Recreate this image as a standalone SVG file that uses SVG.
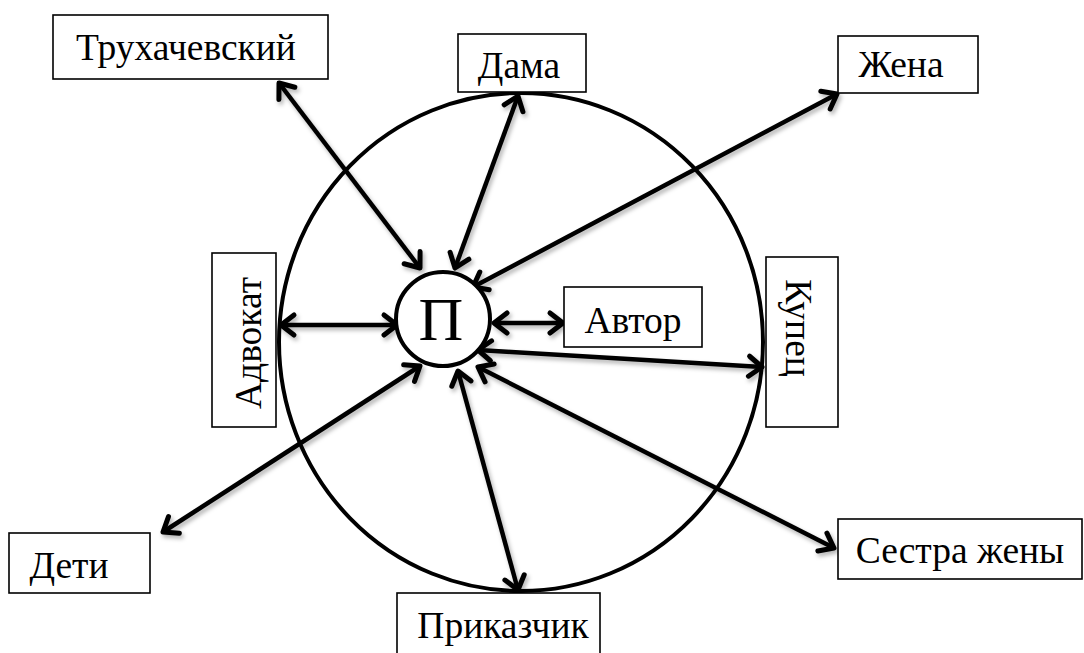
<svg xmlns="http://www.w3.org/2000/svg" width="1084" height="653" viewBox="0 0 1084 653">
<defs>
<style>
.box{fill:#fff;stroke:#000;stroke-width:1.6}
.t{font-family:"Liberation Serif","Times New Roman",serif;font-size:37.5px;fill:#000}
.c{stroke:#000;stroke-width:4.5;fill:none;marker-start:url(#ah);marker-end:url(#ah)}
</style>
<filter id="sh" x="-10%" y="-10%" width="120%" height="120%">
<feDropShadow dx="2" dy="3" stdDeviation="2" flood-color="#000" flood-opacity="0.3"/>
</filter>
<marker id="ah" markerUnits="userSpaceOnUse" viewBox="-18 -14 22 28" markerWidth="22" markerHeight="28" refX="0" refY="0" orient="auto-start-reverse" overflow="visible">
<path d="M -13 -10 L 0 0 L -13 10" fill="none" stroke="#000" stroke-width="5" stroke-linecap="round" stroke-linejoin="round"/>
</marker>
</defs>
<rect width="1084" height="653" fill="#fff"/>
<ellipse id="big" cx="521" cy="342" rx="242" ry="249" fill="none" stroke="#000" stroke-width="4"/>
<g id="connectors" filter="url(#sh)">
<line class="c" x1="420" y1="268" x2="279" y2="83"/>
<line class="c" x1="455" y1="268" x2="518" y2="96"/>
<line class="c" x1="473" y1="287" x2="837" y2="94"/>
<line class="c" x1="397" y1="325" x2="281" y2="325"/>
<line class="c" x1="494" y1="323" x2="563" y2="323"/>
<line class="c" x1="478" y1="350" x2="762" y2="367"/>
<line class="c" x1="420" y1="366" x2="163" y2="532"/>
<line class="c" x1="458" y1="371" x2="518" y2="590"/>
<line class="c" x1="478" y1="367" x2="834" y2="548"/>
</g>
<g id="node-P">
<circle cx="443" cy="319" r="47" fill="#fff" stroke="#000" stroke-width="4"/>
<text class="t" x="441" y="340" text-anchor="middle" style="font-size:62px">П</text>
</g>
<g id="node-truh">
<rect class="box" x="53" y="15" width="275" height="64"/>
<text class="t" x="186" y="60" text-anchor="middle">Трухачевский</text>
</g>
<g id="node-dama">
<rect class="box" x="458" y="34" width="128" height="58"/>
<text class="t" x="519" y="78" text-anchor="middle">Дама</text>
</g>
<g id="node-zhena">
<rect class="box" x="838" y="36" width="140" height="57"/>
<text class="t" x="901" y="77" text-anchor="middle">Жена</text>
</g>
<g id="node-advokat">
<rect class="box" x="212" y="253" width="64" height="174"/>
<text class="t" transform="translate(261 343) rotate(-90)" text-anchor="middle">Адвокат</text>
</g>
<g id="node-avtor">
<rect class="box" x="564" y="287" width="138" height="60"/>
<text class="t" x="633" y="333" text-anchor="middle">Автор</text>
</g>
<g id="node-kupets">
<rect class="box" x="766" y="257" width="72" height="170"/>
<text class="t" transform="translate(786 328) rotate(90)" text-anchor="middle">Купец</text>
</g>
<g id="node-deti">
<rect class="box" x="9" y="533" width="141" height="60"/>
<text class="t" x="69" y="578" text-anchor="middle">Дети</text>
</g>
<g id="node-prikazchik">
<rect class="box" x="397" y="593" width="203" height="70"/>
<text class="t" x="503" y="638" text-anchor="middle">Приказчик</text>
</g>
<g id="node-sestra">
<rect class="box" x="838" y="519" width="244" height="60"/>
<text class="t" x="960" y="563" text-anchor="middle">Сестра жены</text>
</g>
</svg>
